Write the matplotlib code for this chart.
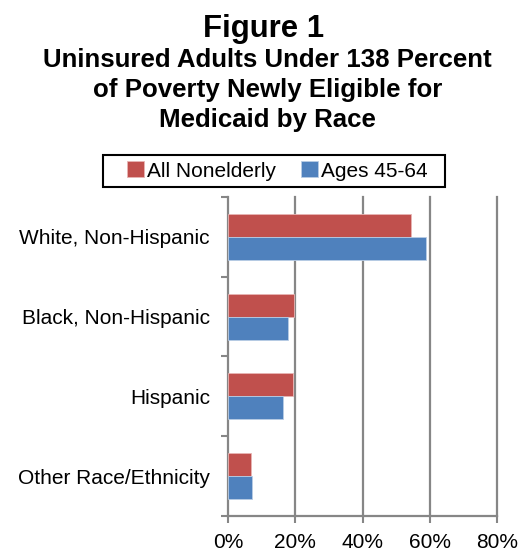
import matplotlib.pyplot as plt
from matplotlib.patches import Rectangle
import numpy as np

plt.rcParams['font.family'] = ['Liberation Sans', 'DejaVu Sans']

# 数据
categories = ["White, Non-Hispanic", "Black, Non-Hispanic", "Hispanic", "Other Race/Ethnicity"]
all_nonelderly = [54.3, 19.5, 19.2, 6.9]
ages_45_64 = [58.8, 17.7, 16.3, 7.2]
series_names = ["All Nonelderly", "Ages 45-64"]
xticks = [0, 20, 40, 60, 80]

red = "#C0504D"
blue = "#4F81BD"
grid_c = "#868686"

fig = plt.figure(figsize=(5.32, 5.58), dpi=100)
ax = fig.add_axes([0.4286, 0.0753, 0.5056, 0.5717])

y = np.arange(len(categories))
h = 0.2875
ax.barh(y - h / 2, all_nonelderly, height=h, color=red, edgecolor="#E8B5B4", linewidth=0.6,
        label=series_names[0], zorder=3)
ax.barh(y + h / 2, ages_45_64, height=h, color=blue, edgecolor="#B9CDE5", linewidth=0.6,
        label=series_names[1], zorder=3)

ax.set_xlim(0, 80)
ax.set_ylim(3.5, -0.5)

# 网格线
for t in xticks[1:]:
    ax.axvline(t, color=grid_c, linewidth=1.6, zorder=1, clip_on=False)

ax.set_xticks(xticks)
ax.set_xticklabels([f"{t}%" for t in xticks], fontsize=15)
ax.set_yticks(y)
ax.set_yticklabels(categories, fontsize=15)
ax.tick_params(axis="y", which="major", length=0, pad=13)
ax.set_yticks(np.arange(-0.5, len(categories)), minor=True)
ax.tick_params(axis="y", which="minor", length=5, width=1.5, color=grid_c)
ax.tick_params(axis="x", length=5, width=1.5, color=grid_c, pad=7)

for s in ["top", "right"]:
    ax.spines[s].set_visible(False)
for s in ["left", "bottom"]:
    ax.spines[s].set_color(grid_c)
    ax.spines[s].set_linewidth(1.6)

# 标题
fig.text(0.495, 0.934, "Figure 1", ha="center", va="baseline", fontsize=22.4, fontweight="bold")
sub = ["Uninsured Adults Under 138 Percent", "of Poverty Newly Eligible for", "Medicaid by Race"]
for i, line in enumerate(sub):
    fig.text(0.503, 0.88 - i * 0.054, line, ha="center", va="baseline", fontsize=18.6, fontweight="bold")

# 图例
leg = fig.legend(loc="center", bbox_to_anchor=(0.5216, 0.6935), ncol=2, fontsize=15,
                 handlelength=0.8, handleheight=0.8, handletextpad=0.15, columnspacing=1.2,
                 frameon=False, borderpad=0.0)
fig.patches.append(Rectangle((103 / 532, 1 - 187 / 558), 342 / 532, 32 / 558,
                             transform=fig.transFigure, fill=False, edgecolor="black", linewidth=1.5))

fig.savefig("out.png", dpi=100)
